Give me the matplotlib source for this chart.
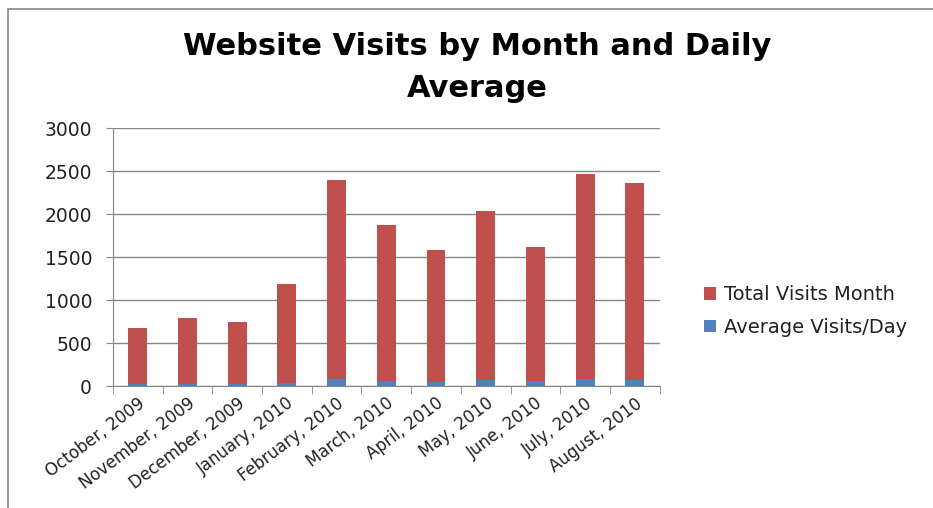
import matplotlib.pyplot as plt
import numpy as np
from matplotlib.patches import Rectangle

# data
months = ["October, 2009", "November, 2009", "December, 2009", "January, 2010",
          "February, 2010", "March, 2010", "April, 2010", "May, 2010",
          "June, 2010", "July, 2010", "August, 2010"]
avg_per_day = [22, 26, 24, 38, 86, 60, 53, 66, 54, 80, 76]
total_month = [652, 764, 720, 1148, 2309, 1812, 1528, 1969, 1562, 2385, 2284]

red = "#C0504D"
blue = "#4F81BD"
grey = "#868686"

plt.rcParams['font.family'] = ['DejaVu Sans']

fig = plt.figure(figsize=(9.33, 5.08), dpi=100)
ax = fig.add_axes([0.121, 0.240, 0.586, 0.508])

x = np.arange(len(months))
ax.bar(x, avg_per_day, width=0.38, color=blue, label="Average Visits/Day", zorder=3)
ax.bar(x, total_month, width=0.38, bottom=avg_per_day, color=red,
       label="Total Visits Month", zorder=3)

ax.set_ylim(0, 3000)
ax.set_yticks(range(0, 3001, 500))
ax.set_xlim(-0.5, len(months) - 0.5)
ax.yaxis.grid(True, color=grey, linewidth=1, zorder=0)

# category labels centred under bars, tick marks at boundaries
ax.set_xticks(x)
ax.set_xticklabels(months, rotation=37, ha="right", rotation_mode="anchor",
                   fontsize=12, color="#222222")
ax.set_xticks(np.arange(-0.5, len(months)), minor=True)
ax.tick_params(axis="x", which="major", length=0, pad=6)
ax.tick_params(axis="x", which="minor", length=6, color=grey, direction="out")
ax.tick_params(axis="y", labelsize=13.5, length=5, color=grey, pad=10,
               labelcolor="#222222")

for s in ["top", "right"]:
    ax.spines[s].set_visible(False)
for s in ["left", "bottom"]:
    ax.spines[s].set_color(grey)

handles, labels = ax.get_legend_handles_labels()
ax.legend(handles[::-1], labels[::-1], loc="center left", bbox_to_anchor=(1.05, 0.29),
          frameon=False, fontsize=14, handlelength=0.6, handleheight=0.6,
          handletextpad=0.4, labelspacing=0.7, labelcolor="#222222")

fig.text(0.512, 0.891, "Website Visits by Month and Daily", ha="center", va="baseline",
         fontsize=22, fontweight="bold")
fig.text(0.512, 0.809, "Average", ha="center", va="baseline", fontsize=22, fontweight="bold")

fig.patches.append(Rectangle((0.009, -0.01), 1.0, 0.992, transform=fig.transFigure,
                             fill=False, edgecolor=grey, linewidth=1.2))

fig.savefig("out.png")
